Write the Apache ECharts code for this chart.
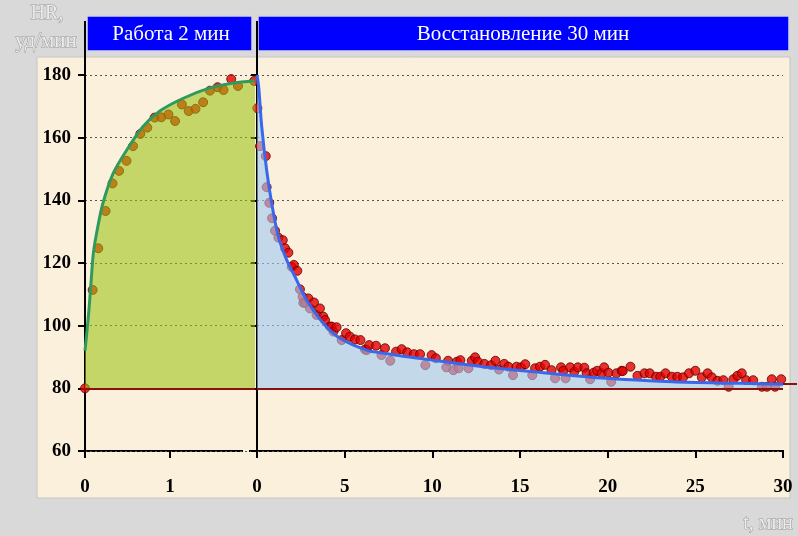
<!DOCTYPE html>
<html>
<head>
<meta charset="utf-8">
<script src="https://cdn.jsdelivr.net/npm/echarts@6.0.0/dist/echarts.min.js"></script>
<style>
  html, body { margin: 0; padding: 0; background: #d9d9d9; }
  #main { width: 798px; height: 536px; }
</style>
</head>
<body>
<div id="main"></div>
<script>
// работа: 0–2 мин
const workT = [0, 0.04, 0.07, 0.1, 0.15, 0.21, 0.33, 0.49, 0.68, 0.88, 1.15, 1.46, 1.73, 2]
const workHR = [92, 103, 113.5, 123.5, 131.5, 139, 148.5, 156, 163.5, 168.5, 172.5, 175.8, 177.4, 178.2]
const workPoints = [
  [0, 80], [0.09, 111.4], [0.156, 124.7], [0.242, 136.6], [0.324, 145.4], [0.401, 149.4],
  [0.488, 152.6], [0.565, 157.3], [0.651, 161.2], [0.733, 163.2], [0.819, 166.4], [0.897, 166.5],
  [0.982, 167.4], [1.06, 165.3], [1.14, 170.6], [1.22, 168.5], [1.3, 169.2], [1.39, 171.3],
  [1.47, 175.0], [1.56, 176.1], [1.63, 175.2], [1.72, 178.7], [1.8, 176.5], [1.99, 178.1]
]

// восстановление: 0–30 мин
const recT = [0, 0.1, 0.27, 0.55, 0.84, 1.22, 1.69, 2.17, 2.83, 3.78, 4.73, 6.26, 7.2, 10, 12.9, 15.8, 19.9, 23.7, 27.6, 30]
const recHR = [180, 176, 163.5, 149.7, 139, 128.4, 121, 115.6, 108.2, 100.8, 96, 92.2, 91.2, 89.0, 86.9, 85.3, 83.2, 82.1, 81.6, 81.3]
const recPoints = [
  [0.02, 169.4], [0.17, 157.3], [0.5, 154.1], [0.55, 144.2], [0.7, 139.2], [0.86, 134.3],
  [1.03, 130.3], [1.22, 128.1], [1.47, 127.3], [1.6, 124.7], [1.79, 123.3], [1.98, 118.8],
  [2.1, 119.4], [2.3, 117.5], [2.45, 111.6], [2.6, 109.2], [2.64, 107.3], [2.74, 107.3],
  [2.93, 108.7], [3.02, 105.5], [3.25, 107.4], [3.4, 103.4], [3.59, 105.5], [3.78, 102.9],
  [3.88, 101.8], [4.16, 99.7], [4.26, 99.7], [4.36, 98.1], [4.54, 99.5], [4.83, 95.4],
  [5.08, 97.6], [5.3, 96.5], [5.59, 95.6], [5.9, 95.4], [6.16, 92.4], [6.26, 92.2],
  [6.4, 93.8], [6.79, 93.6], [7.1, 90.6], [7.3, 92.8], [7.6, 88.8], [7.93, 91.7],
  [8.25, 92.5], [8.57, 91.5], [8.95, 90.9], [9.3, 90.9], [9.6, 87.4], [9.96, 90.6],
  [10.2, 89.6], [10.8, 86.7], [10.9, 88.8], [11.2, 85.8], [11.4, 88.5], [11.5, 86.4],
  [11.6, 89.0], [12.06, 86.4], [12.25, 88.8], [12.44, 89.9], [12.6, 88.5], [12.97, 87.8],
  [13.35, 87.4], [13.6, 88.8], [13.8, 86.0], [14.1, 87.8], [14.34, 86.9], [14.6, 84.2],
  [14.8, 86.9], [15.06, 86.7], [15.3, 87.7], [15.7, 84.2], [15.86, 86.4], [16.14, 86.9],
  [16.43, 87.5], [16.8, 85.8], [17.0, 83.2], [17.34, 86.7], [17.47, 85.6], [17.6, 83.2],
  [17.86, 86.7], [18.1, 85.3], [18.3, 86.7], [18.67, 86.6], [18.8, 84.8], [19.0, 82.9],
  [19.2, 85.0], [19.4, 85.6], [19.66, 84.8], [19.8, 86.7], [20.04, 85.0], [20.2, 82.1],
  [20.5, 84.8], [20.8, 85.6], [20.86, 85.5], [21.3, 86.9], [21.7, 84.0], [22.1, 84.8],
  [22.4, 84.8], [22.76, 83.7], [23.0, 83.7], [23.3, 84.8], [23.66, 83.7], [23.97, 83.7],
  [24.3, 83.5], [24.64, 84.8], [25.0, 85.6], [25.37, 83.5], [25.7, 84.8], [25.94, 83.5],
  [26.26, 82.4], [26.6, 82.6], [26.9, 80.5], [27.17, 82.9], [27.4, 84.0], [27.65, 84.8],
  [27.9, 82.6], [28.3, 82.6], [28.8, 80.5], [29.08, 80.5], [29.36, 82.9], [29.55, 80.5],
  [29.9, 82.9]
]

const restHR = 80
const yTicks = [60, 80, 100, 120, 140, 160, 180]
const workTicks = [0, 1]
const recTicks = [0, 5, 10, 15, 20, 25, 30]

const chart = echarts.init(document.getElementById('main'))

const serif = '"Liberation Serif", "Times New Roman", serif'
const labelFont = { color: '#000', fontFamily: serif, fontWeight: 'bold', fontSize: 19 }
const dotted = { color: '#555', type: [2, 3], width: 1 }
const dotStyle = { color: '#e60000', borderColor: '#5a0000', borderWidth: 1 }
const embossed = { fill: '#ececec', stroke: '#9a9a9a', lineWidth: 1, font: '20px ' + serif, align: 'center', verticalAlign: 'middle' }

const option = {
  backgroundColor: '#d9d9d9',
  animation: false,
  graphic: [
    { type: 'rect', z: -10, shape: { x: 37, y: 57, width: 753, height: 441 },
      style: { fill: '#fbf0dc', stroke: '#c4c4c4', lineWidth: 1 } },
    { type: 'rect', shape: { x: 87, y: 16, width: 165, height: 35 },
      style: { fill: '#0000ff', stroke: '#d4d4e4', lineWidth: 1.5 } },
    { type: 'text', x: 171, y: 34,
      style: { text: 'Работа 2 мин', fill: '#fff', font: '21px ' + serif, align: 'center', verticalAlign: 'middle' } },
    { type: 'rect', shape: { x: 258, y: 16, width: 531, height: 35 },
      style: { fill: '#0000ff', stroke: '#d4d4e4', lineWidth: 1.5 } },
    { type: 'text', x: 523, y: 34,
      style: { text: 'Восстановление 30 мин', fill: '#fff', font: '21px ' + serif, align: 'center', verticalAlign: 'middle' } },
    { type: 'text', x: 47, y: 14, style: Object.assign({ text: 'HR,' }, embossed) },
    { type: 'text', x: 46, y: 41, style: Object.assign({ text: 'уд/мин' }, embossed, { font: '21px ' + serif }) },
    { type: 'text', x: 768, y: 524, style: Object.assign({ text: 't, мин' }, embossed) },
    // axis lines drawn by hand to keep the gap between the two time scales
    { type: 'line', shape: { x1: 85, y1: 21, x2: 85, y2: 75 }, style: { stroke: '#000', lineWidth: 2 } },
    { type: 'line', shape: { x1: 257, y1: 21, x2: 257, y2: 75 }, style: { stroke: '#000', lineWidth: 2 } },
    { type: 'line', shape: { x1: 78, y1: 451, x2: 243, y2: 451 }, style: { stroke: '#000', lineWidth: 2 } },
    { type: 'line', shape: { x1: 249, y1: 451, x2: 784, y2: 451 }, style: { stroke: '#000', lineWidth: 2 } },
    { type: 'line', z: 5, shape: { x1: 783, y1: 384, x2: 797, y2: 384 }, style: { stroke: '#8b1010', lineWidth: 2 } }
  ],
  grid: [
    { left: 85, top: 75, width: 170, height: 376 },
    { left: 257, top: 75, width: 526, height: 376 }
  ],
  xAxis: [
    {
      type: 'value', gridIndex: 0, min: 0, max: 2, interval: 1,
      axisLine: { show: false },
      axisTick: { show: true, length: 7, lineStyle: { color: '#000', width: 2 }, customValues: workTicks },
      axisLabel: Object.assign({ margin: 27, customValues: workTicks }, labelFont),
      splitLine: { show: false }
    },
    {
      type: 'value', gridIndex: 1, min: 0, max: 30, interval: 5,
      axisLine: { show: false },
      axisTick: { show: true, length: 7, lineStyle: { color: '#000', width: 2 }, customValues: recTicks },
      axisLabel: Object.assign({ margin: 27, customValues: recTicks }, labelFont),
      splitLine: { show: false }
    }
  ],
  yAxis: [
    {
      type: 'value', gridIndex: 0, min: 60, max: 180, interval: 20,
      axisLine: { show: true, lineStyle: { color: '#000', width: 2 } },
      axisTick: { show: true, length: 7, lineStyle: { width: 2 }, customValues: yTicks },
      axisLabel: Object.assign({ margin: 14, customValues: yTicks }, labelFont),
      splitLine: { show: true, lineStyle: dotted }
    },
    {
      type: 'value', gridIndex: 1, min: 60, max: 180, interval: 20,
      axisLine: { show: true, lineStyle: { color: '#000', width: 2 } },
      axisTick: { show: true, length: 6, lineStyle: { width: 2 } },
      axisLabel: { show: false },
      splitLine: { show: true, lineStyle: dotted }
    }
  ],
  series: [
    {
      name: 'work points', type: 'scatter', xAxisIndex: 0, yAxisIndex: 0, z: 2,
      symbolSize: 9, itemStyle: dotStyle, data: workPoints,
      markLine: { silent: true, symbol: 'none', label: { show: false },
        lineStyle: { color: '#8b1010', width: 2, type: 'solid' }, data: [{ yAxis: restHR }] }
    },
    {
      name: 'work', type: 'line', xAxisIndex: 0, yAxisIndex: 0, z: 3,
      smooth: 0.3, showSymbol: false,
      lineStyle: { color: '#2f9a5c', width: 3 },
      areaStyle: { origin: restHR, color: '#97c109', opacity: 0.55 },
      data: workT.map((t, i) => [t, workHR[i]])
    },
    {
      name: 'recovery points', type: 'scatter', xAxisIndex: 1, yAxisIndex: 1, z: 2,
      symbolSize: 9, itemStyle: dotStyle, data: recPoints,
      markLine: { silent: true, symbol: 'none', label: { show: false },
        lineStyle: { color: '#8b1010', width: 2, type: 'solid' }, data: [{ yAxis: restHR }] }
    },
    {
      name: 'recovery', type: 'line', xAxisIndex: 1, yAxisIndex: 1, z: 3,
      smooth: 0.3, showSymbol: false,
      lineStyle: { color: '#3a68ec', width: 3 },
      areaStyle: { origin: restHR, color: '#9fc8f0', opacity: 0.6 },
      data: recT.map((t, i) => [t, recHR[i]])
    }
  ]
}

chart.setOption(option)
</script>
</body>
</html>
